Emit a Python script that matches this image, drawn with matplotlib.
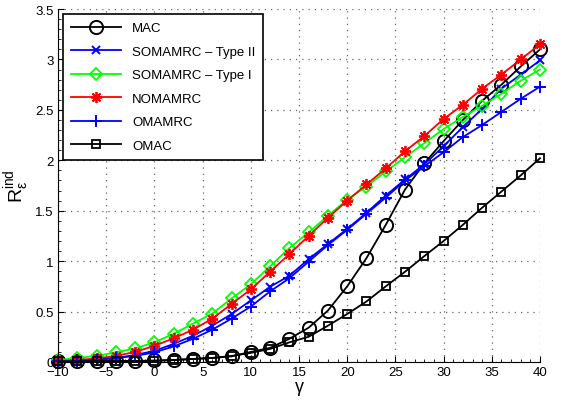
import numpy as np
import matplotlib
matplotlib.use('Agg')
import matplotlib.pyplot as plt
import matplotlib.ticker as ticker

plt.rcParams['font.family'] = ['Liberation Sans', 'DejaVu Sans']
plt.rcParams['mathtext.fontset'] = 'custom'
plt.rcParams['mathtext.rm'] = 'Liberation Sans'
plt.rcParams['mathtext.it'] = 'Liberation Sans'

gamma = list(range(-10, 41, 2))

mac = [0.01, 0.01, 0.01, 0.01, 0.01, 0.015, 0.02, 0.03, 0.04, 0.056, 0.10, 0.14, 0.23,
       0.34, 0.51, 0.75, 1.03, 1.36, 1.71, 1.97, 2.19, 2.40, 2.59, 2.75, 2.93, 3.10]
somamrc_2 = [0.01, 0.015, 0.025, 0.04, 0.07, 0.11, 0.18, 0.26, 0.36, 0.475, 0.61, 0.746, 0.855,
             1.02, 1.17, 1.32, 1.48, 1.65, 1.81, 1.96, 2.14, 2.33, 2.51, 2.71, 2.85, 2.99]
somamrc_1 = [0.02, 0.04, 0.06, 0.095, 0.135, 0.195, 0.28, 0.38, 0.48, 0.63, 0.77, 0.95, 1.13,
             1.285, 1.45, 1.61, 1.74, 1.89, 2.03, 2.17, 2.31, 2.43, 2.54, 2.66, 2.79, 2.90]
nomamrc = [0.01, 0.02, 0.035, 0.06, 0.10, 0.16, 0.235, 0.32, 0.43, 0.575, 0.72, 0.895, 1.07,
           1.25, 1.43, 1.60, 1.76, 1.92, 2.09, 2.24, 2.41, 2.55, 2.71, 2.85, 3.00, 3.15]
omamrc = [0.005, 0.01, 0.02, 0.04, 0.06, 0.095, 0.155, 0.23, 0.32, 0.43, 0.55, 0.70, 0.83,
          0.995, 1.16, 1.31, 1.47, 1.63, 1.80, 1.94, 2.08, 2.23, 2.35, 2.48, 2.61, 2.73]
omac = [0.005, 0.005, 0.01, 0.01, 0.01, 0.01, 0.02, 0.03, 0.04, 0.06, 0.09, 0.13, 0.195,
        0.25, 0.36, 0.476, 0.60, 0.75, 0.895, 1.05, 1.20, 1.36, 1.53, 1.69, 1.85, 2.02]

fig = plt.figure(figsize=(5.64, 4.06), dpi=100)
ax = fig.add_axes([58 / 564, 43 / 406, 482 / 564, 353 / 406])

asterisk = (8, 2, 0)
ax.plot(gamma, mac, 'k-o', lw=1.3, ms=9.5, mfc='none', mew=1.4, label='MAC', clip_on=False)
ax.plot(gamma, somamrc_2, 'b-x', lw=1.3, ms=6, mew=1.4, label='SOMAMRC \u2013 Type II', clip_on=False)
ax.plot(gamma, somamrc_1, '-D', color='#00ff00', lw=1.3, ms=6, mfc='none', mew=1.3,
        label='SOMAMRC \u2013 Type I', clip_on=False)
ax.plot(gamma, nomamrc, '-', color='red', marker=asterisk, lw=1.3, ms=8, mew=1.3,
        label='NOMAMRC', clip_on=False)
ax.plot(gamma, omamrc, 'b-+', lw=1.3, ms=8.5, mew=1.4, label='OMAMRC', clip_on=False)
ax.plot(gamma, omac, 'k-s', lw=1.3, ms=5.5, mfc='none', mew=1.3, label='OMAC', clip_on=False)

ax.set_xlim(-10, 40)
ax.set_ylim(0, 3.5)
ax.xaxis.set_major_locator(ticker.MultipleLocator(5))
ax.yaxis.set_major_locator(ticker.MultipleLocator(0.5))
ax.xaxis.set_minor_locator(ticker.MultipleLocator(1))
ax.yaxis.set_minor_locator(ticker.MultipleLocator(0.1))
ax.yaxis.set_major_formatter(ticker.FuncFormatter(lambda v, p: ('%g' % v)))
ax.tick_params(which='both', direction='in', labelsize=9.5, pad=3)
ax.tick_params(which='major', length=4)
ax.tick_params(which='minor', length=2)
ax.spines['top'].set_visible(False)
ax.spines['right'].set_visible(False)
ax.grid(True, which='major', linestyle=(0, (1, 4)), color='#666666', linewidth=0.9)

ax.set_xlabel('\u03b3', fontsize=13)
ax.xaxis.set_label_coords(0.5, -0.045)
ax.set_ylabel(r'$\mathregular{R_{\varepsilon}^{ind}}$', fontsize=14)
ax.yaxis.set_label_coords(-0.056, 0.5)

leg = ax.legend(loc='upper left', fontsize=9.5, handlelength=3.8, borderaxespad=0.4,
                fancybox=False, framealpha=1, edgecolor='black', labelspacing=0.85,
                borderpad=0.6)
leg.get_frame().set_linewidth(1.2)

fig.savefig('out.png', dpi=100)
